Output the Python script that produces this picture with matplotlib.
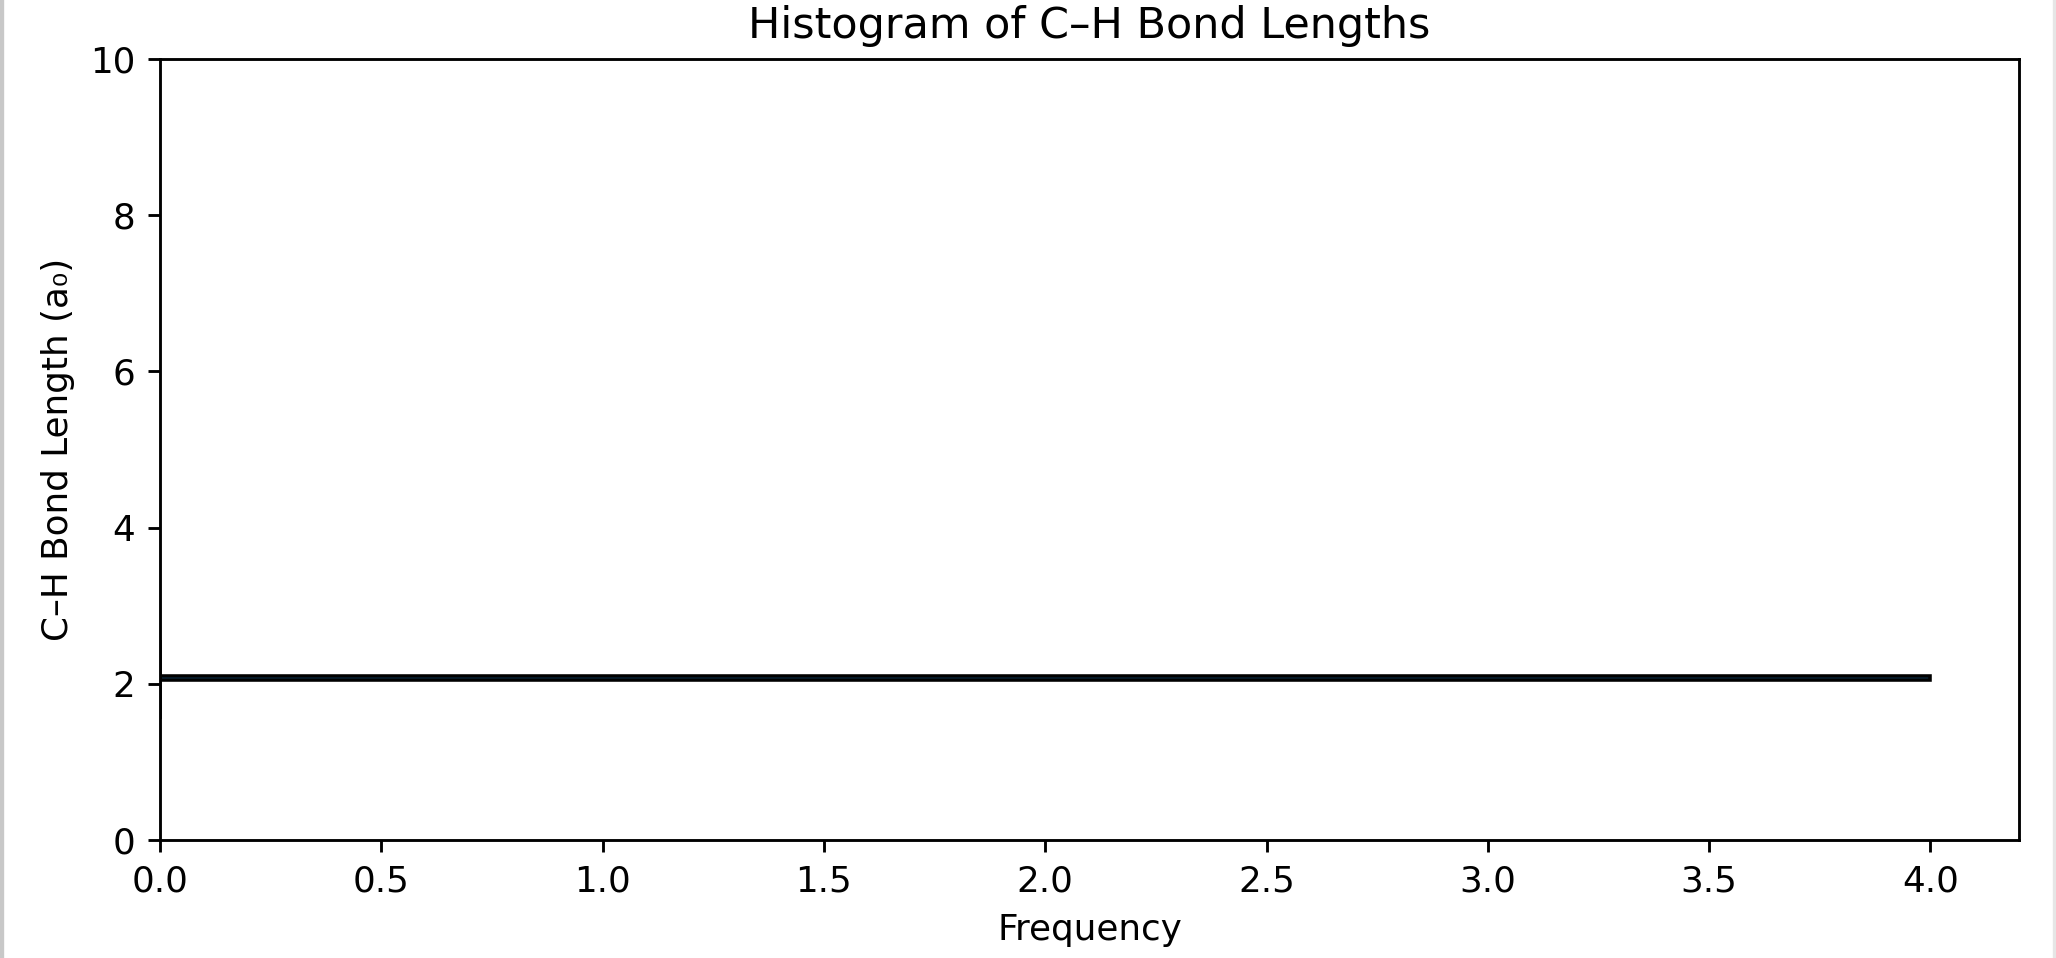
import matplotlib
matplotlib.use('Agg')
import matplotlib.pyplot as plt
from matplotlib.lines import Line2D

# C-H bond lengths (bohr), all four identical
bond_lengths = [2.055, 2.055, 2.055, 2.055]
n_bins = 20

title = 'Histogram of C\u2013H Bond Lengths'
x_label = 'Frequency'
y_label = 'C\u2013H Bond Length (a\u2080)'

fig = plt.figure(figsize=(8, 958 / 257), dpi=257)
ax = fig.add_axes([160 / 2056, 1 - 840 / 958, (2019 - 160) / 2056, (840 - 59) / 958])

# horizontal histogram
ax.hist(bond_lengths, bins=n_bins, orientation='horizontal', edgecolor='black')

ax.set_ylim(0, 10)
ax.set_title(title, fontsize=12)
ax.set_xlabel(x_label)
ax.set_ylabel(y_label)

# faint frame lines at left/right image edges
fig.add_artist(Line2D([0.0005, 0.0005], [0, 1], color='#c8c8c8', lw=1.5, transform=fig.transFigure))
fig.add_artist(Line2D([0.9995, 0.9995], [0, 1], color='#e6e6e6', lw=1.5, transform=fig.transFigure))

fig.savefig('out.png', dpi=257)
